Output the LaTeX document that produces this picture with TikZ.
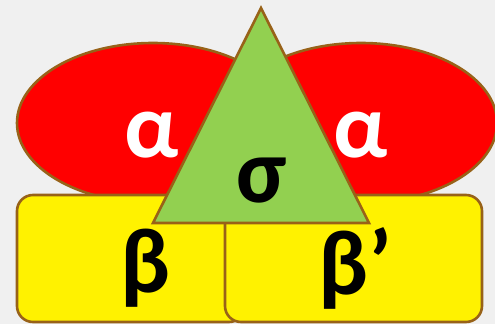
\documentclass[tikz,border=0pt]{standalone}
\usepackage{fontspec}
\setmainfont{Carlito}
\usepackage{tikz}
\definecolor{edgebrown}{RGB}{152,98,24}
\definecolor{leafgreen}{RGB}{146,208,80}
\definecolor{paper}{RGB}{240,240,240}
\tikzset{
  part/.style={draw=edgebrown, line width=2.6pt},
  sub/.style={font=\fontsize{92}{92}\selectfont\bfseries, inner sep=0pt}
}
\begin{document}
\begin{tikzpicture}[x=1pt, y=-1pt]
      % Page frame
      \fill[paper] (0,0) rectangle (495,324);
      \useasboundingbox (0,0) rectangle (495,324);

      % Alpha subunits
      \filldraw[part, fill=red] (153,123) ellipse [x radius=136, y radius=80];
      \filldraw[part, fill=red] (361,123) ellipse [x radius=136, y radius=80];
      \node[sub, white] (alphaL) at (152,135) {α};
      \node[sub, white] (alphaR) at (361,135) {α};

      % Beta subunits
      \filldraw[part, fill=yellow, rounded corners=16] (17,195) rectangle (245,322);
      \filldraw[part, fill=yellow, rounded corners=16] (225,195) rectangle (482,322);
      \node[sub] (beta) at (146,268) {β};
      \node[sub] (betap) at (355,268) {β’};

      % Sigma factor
      \filldraw[part, fill=leafgreen, line join=miter] (261,8) -- (369,223) -- (153,223) -- cycle;
      \node[sub] (sigma) at (262,181) {σ};
    \end{tikzpicture}
\end{document}
